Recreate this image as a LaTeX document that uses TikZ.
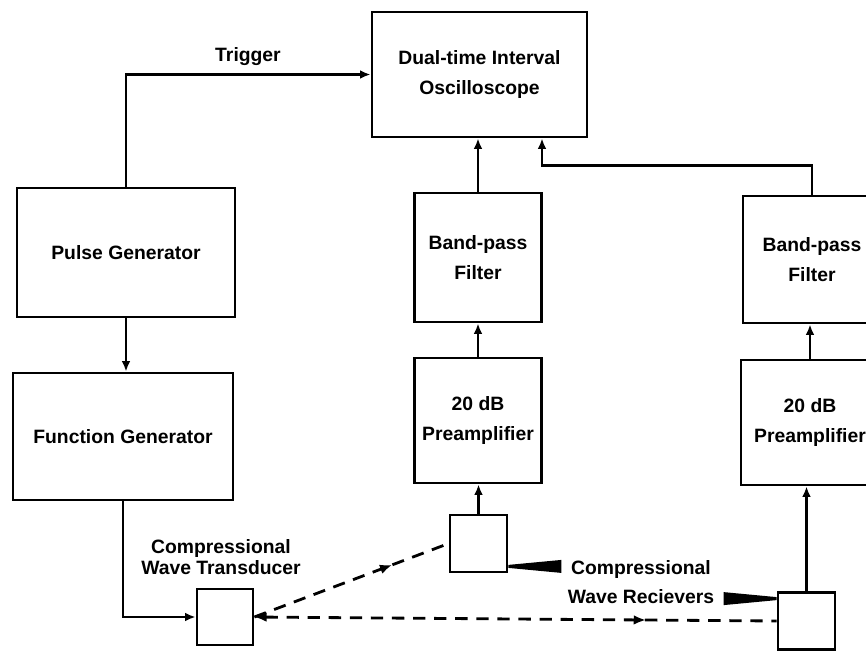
\documentclass[tikz,border=0pt]{standalone}
\usepackage{fontspec}
\setmainfont{Liberation Sans}
\usetikzlibrary{positioning, arrows.meta, calc, decorations.markings}

\begin{document}
\begin{tikzpicture}[x=0.02cm, y=-0.02cm, line width=1.6pt,
  box/.style={draw, rectangle, align=center, inner sep=0pt, font=\bfseries\fontsize{11}{17}\selectfont},
  lbl/.style={align=center, inner sep=0pt, font=\bfseries\fontsize{11}{11.5}\selectfont},
  arr/.style={-{Latex[length=6pt,width=5pt]}},
  wave/.style={dash pattern=on 7pt off 5pt},
  midarr/.style={postaction={decorate}, decoration={markings, mark=at position #1 with {\arrow{Latex[length=7pt,width=5.5pt]}}}}]
\useasboundingbox (0,0) rectangle (866,650);
\clip (0,0) rectangle (866,650);
% Oscilloscope
\node[box, minimum width=4.3cm, minimum height=2.5cm] (osc) at (479.5,74.5) {Dual-time Interval\\Oscilloscope};
% Generators
\node[box, minimum width=4.36cm, minimum height=2.58cm] (pulse) at (126,252.5) {Pulse Generator};
\node[box, minimum width=4.4cm, minimum height=2.54cm] (func) at (123,436.5) {Function Generator};
% Receiver chains
\node[box, minimum width=2.54cm, minimum height=2.58cm] (bp1) at (478,257.5) {Band-pass\\Filter};
\node[box, minimum width=2.54cm, minimum height=2.5cm] (pre1) at (478,420.5) {20 dB\\Preamplifier};
\node[box, minimum width=2.76cm, minimum height=2.54cm] (bp2) at (812,259.5) {Band-pass\\Filter};
\node[box, minimum width=2.76cm, minimum height=2.5cm] (pre2) at (810,422.5) {20 dB\\Preamplifier};
% Transducer and receivers
\node[box, minimum size=1.12cm] (tx) at (225,617) {};
\node[box, minimum size=1.14cm] (rx1) at (478.5,543.5) {};
\node[box, minimum size=1.14cm] (rx2) at (806.5,621) {};
% Labels
\node[lbl] (trig) at (248,57) {Trigger};
\node[lbl] (txlab) at (221,557) {Compressional\\Wave Transducer};
\node[lbl] (rxlab) at (641,582) {Compressional\\[5pt]Wave Recievers};
% Signal lines
\draw[arr] (pulse.north) |- (osc.west);
\draw[arr] (pulse.south) -- (pulse.south |- func.north);
\draw[arr] (func.south) |- (tx.west);
\draw[arr] (rx1.north) -- (rx1.north |- pre1.south);
\draw[arr] (pre1.north) -- (pre1.north |- bp1.south);
\draw[arr] (bp1.north) -- (bp1.north |- osc.south);
\coordinate (oscin) at ($(osc.south)+(62.5,0)$);
\draw[arr] (bp2.north) -- ++(0,-29) -| (oscin);
\draw[arr] (rx2.north) -- (rx2.north |- pre2.south);
\draw[arr] (pre2.north) -- (pre2.north |- bp2.south);
% Waves
\draw[wave, midarr=0.71] (tx.east) -- (rx1.west);
\draw[wave, {Latex[length=7pt,width=5.5pt]}-, midarr=0.75] (tx.east) -- (rx2.west);
% Pointers to receivers
\coordinate (w1s) at ($(rx1.south east)+(0,-7)$);
\coordinate (w1e) at ($(w1s -| rxlab.west)+(-5,0)$);
\fill ($(w1s)+(0,-1.5)$) -- ($(w1e)+(0,-6.5)$) -- ($(w1e)+(0,6.5)$) -- ($(w1s)+(0,1.5)$) -- cycle;
\coordinate (w2s) at ($(rx2.north west)+(0,7.5)$);
\coordinate (w2e) at ($(w2s -| rxlab.east)+(8,0)$);
\fill ($(w2s)+(0,-1.5)$) -- ($(w2e)+(0,-6.5)$) -- ($(w2e)+(0,6.5)$) -- ($(w2s)+(0,1.5)$) -- cycle;
\end{tikzpicture}
\end{document}
